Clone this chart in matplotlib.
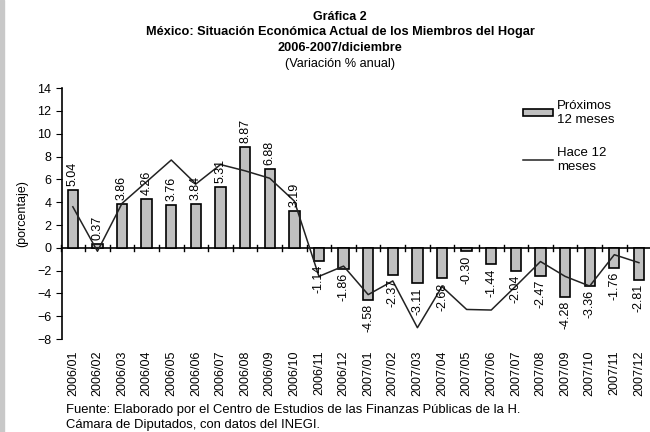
import matplotlib.pyplot as plt
import matplotlib.patches as mpatches

plt.rcParams['font.family'] = ['Liberation Sans', 'DejaVu Sans']
plt.rcParams['font.size'] = 9

# datos
meses = ['2006/01', '2006/02', '2006/03', '2006/04', '2006/05', '2006/06',
         '2006/07', '2006/08', '2006/09', '2006/10', '2006/11', '2006/12',
         '2007/01', '2007/02', '2007/03', '2007/04', '2007/05', '2007/06',
         '2007/07', '2007/08', '2007/09', '2007/10', '2007/11', '2007/12']
proximos = [5.04, 0.37, 3.86, 4.26, 3.76, 3.84, 5.31, 8.87, 6.88, 3.19, -1.14, -1.86,
            -4.58, -2.37, -3.11, -2.68, -0.30, -1.44, -2.04, -2.47, -4.28, -3.36, -1.76, -2.81]
hace = [3.6, -0.3, 3.9, 5.8, 7.7, 5.6, 7.3, 6.75, 6.1, 4.1, -2.5, -1.6,
        -4.1, -2.9, -7.0, -3.4, -5.4, -5.45, -3.35, -1.2, -2.5, -3.35, -0.6, -1.3]

fig = plt.figure(figsize=(6.5, 4.32), dpi=100)
ax = fig.add_axes([0.095, 0.215, 0.905, 0.581])

x = list(range(len(meses)))
barras = ax.bar(x, proximos, width=0.42, color='#c0c0c0', edgecolor='black', linewidth=1.2,
                label='Próximos\n12 meses', zorder=2)
linea, = ax.plot(x, hace, color='#222222', linewidth=1.1, label='Hace 12\nmeses', zorder=3)

for i, v in enumerate(proximos):
    if v >= 0:
        ax.text(i, v + 0.35, f'{v:.2f}', rotation=90, ha='center', va='bottom', fontsize=9)
    else:
        ax.text(i, v - 0.35, f'{v:.2f}', rotation=90, ha='center', va='top', fontsize=9)

ax.set_xlim(-0.45, 23.45)
ax.set_ylim(-8, 14)
ax.set_yticks(range(-8, 15, 2))
ax.set_xticks(x)
ax.set_xticklabels(meses, rotation=90)
ax.tick_params(axis='x', length=0, pad=8)
ax.tick_params(axis='y', direction='out', length=4)
for s in ['top', 'right', 'bottom']:
    ax.spines[s].set_visible(False)
ax.spines['left'].set_linewidth(1.2)

# eje del cero con marcas entre categorias
ax.axhline(0, color='black', linewidth=1.2, zorder=1)
for b in [i + 0.5 for i in range(-1, 24)]:
    ax.plot([b, b], [-0.25, 0.25], color='black', linewidth=1.0, zorder=1, clip_on=False)

ax.set_ylabel('(porcentaje)', fontsize=9, labelpad=6)

ax.legend([barras, linea], ['Próximos\n12 meses', 'Hace 12\nmeses'],
          loc='upper right', bbox_to_anchor=(0.96, 1.0), frameon=False,
          handlelength=2.3, handleheight=0.45, labelspacing=1.6, handletextpad=0.3,
          fontsize=9.5)

fig.text(0.523, 0.961, 'Gráfica 2', ha='center', va='center', fontweight='bold', fontsize=9)
fig.text(0.523, 0.925, 'México: Situación Económica Actual de los Miembros del Hogar',
         ha='center', va='center', fontweight='bold', fontsize=9.2)
fig.text(0.523, 0.889, '2006-2007/diciembre', ha='center', va='center', fontweight='bold', fontsize=9.2)
fig.text(0.523, 0.853, '(Variación % anual)', ha='center', va='center', fontsize=9.2)

fig.text(0.102, 0.051, 'Fuente: Elaborado por el Centro de Estudios de las Finanzas Públicas de la H.',
         ha='left', va='center', fontsize=9.4)
fig.text(0.102, 0.016, 'Cámara de Diputados, con datos del INEGI.', ha='left', va='center',
         fontsize=9.4)

fig.patches.append(mpatches.Rectangle((0, 0), 0.006, 1, transform=fig.transFigure,
                                      color='#c8c8c8', zorder=0))

fig.savefig('out.png', dpi=100)
